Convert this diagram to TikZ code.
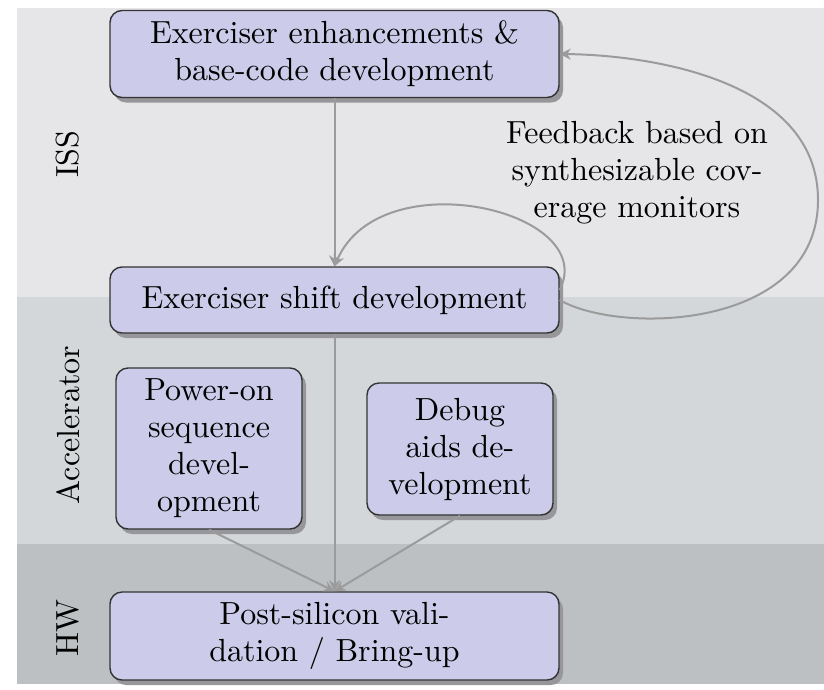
\documentclass[tikz,border=0pt]{standalone}
\usepackage{fontspec}
\setmainfont{lmroman10-regular.otf}
\usetikzlibrary{arrows.meta,shadows}
\definecolor{bandA}{RGB}{230,230,233}
\definecolor{bandB}{RGB}{212,215,217}
\definecolor{bandC}{RGB}{189,192,194}
\definecolor{boxfill}{RGB}{204,204,234}
\definecolor{arrowgray}{RGB}{155,155,155}
\definecolor{shadowgray}{RGB}{150,150,155}
\tikzset{
  stagebox/.style={draw=black!80, line width=1.4pt, fill=boxfill, rounded corners=12pt,
    align=center, inner sep=0pt,
    drop shadow={shadow xshift=4pt, shadow yshift=-5pt, fill=shadowgray, opacity=1}},
  flow/.style={draw=arrowgray, line width=2pt, -{Stealth[length=11pt,width=11pt]}},
  lanelabel/.style={rotate=90, anchor=center},
}
\begin{document}
\begin{tikzpicture}[x=1pt,y=-1pt,font=\fontsize{32}{37}\selectfont]
\useasboundingbox (0,0) rectangle (824,689);
\fill[bandA] (17,8) rectangle (824,297);
\fill[bandB] (17,297) rectangle (824,544);
\fill[bandC] (17,544) rectangle (824,684);

\node[lanelabel] (iss) at (68,154) {ISS};
\node[lanelabel] (acc) at (68,425) {Accelerator};
\node[lanelabel] (hw) at (68,628) {HW};

\node[stagebox, minimum width=449pt, minimum height=87pt] (top) at (334.5,54) {Exerciser enhancements \&\\base-code development};
\node[stagebox, minimum width=449pt, minimum height=66pt] (shift) at (334.5,300) {Exerciser shift development};
\node[stagebox, minimum width=186pt, minimum height=161pt] (power) at (209,448.5) {Power-on\\sequence\\devel-\\opment};
\node[stagebox, minimum width=186pt, minimum height=132pt] (debug) at (460,449) {Debug\\aids de-\\velopment};
\node[stagebox, minimum width=449pt, minimum height=88pt] (post) at (334.5,636) {Post-silicon vali-\\dation / Bring-up};

\node[align=center] (fb) at (637,173) {Feedback based on\\synthesizable cov-\\erage monitors};

\draw[flow] (top.south) -- (shift.north);
\draw[flow] (shift.south) -- (post.north);
\draw[flow] (power.south) -- (post.north);
\draw[flow] (debug.south) -- (post.north);
\draw[flow] (shift.east |- 0,290) .. controls (600,210) and (380,160) .. (shift.north);
\coordinate (far) at (818,200);
\draw[flow] (shift.east) .. controls (620,335) and (818,330) .. (far) .. controls (818,80) and (650,55) .. (top.east);
\end{tikzpicture}
\end{document}
